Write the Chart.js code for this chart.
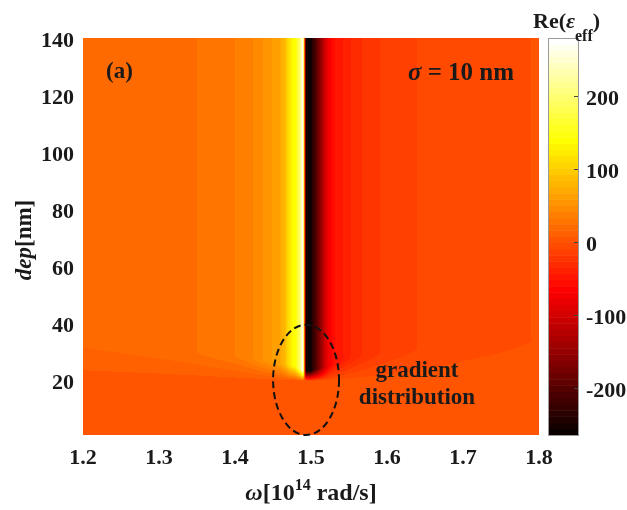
<!DOCTYPE html>
<html>
<head>
<meta charset="utf-8">
<script src="https://cdn.jsdelivr.net/npm/chart.js@4.4.0/dist/chart.umd.min.js"></script>
<style>
  body { margin: 0; background: #fff; }
  #wrap { width: 627px; height: 510px; }
</style>
</head>
<body>
<div id="wrap"><canvas id="myChart" width="627" height="510"></canvas></div>
<script>
// frequency nodes [10^14 rad/s] and Re(eps_eff) once the profile is fully developed
var omega  = [1.20, 1.25, 1.30, 1.35, 1.40, 1.424, 1.437, 1.449, 1.459, 1.466, 1.472, 1.480, 1.4855, 1.4895,
              1.4935, 1.499, 1.503, 1.508, 1.513, 1.519, 1.525, 1.532, 1.542, 1.553, 1.567, 1.591, 1.639, 1.70, 1.79, 1.80];
var reDeep = [18, 19.5, 21.5, 25, 33.5, 42, 50.5, 59, 67.5, 85, 120, 145, 200, 285,
              -270, -262, -230, -190, -150, -100, -65, -51.5, -43, -34.5, -26, -17.5, -9, -4, -0.5, 0];

// near the surface the permittivity is flat
var shallowDep = 20;
var reShallow = 4;

// depth at which the deep values are reached
var onsetOmega = [1.20, 1.30, 1.40, 1.45, 1.48, 1.49, 1.50, 1.52, 1.55, 1.60, 1.70, 1.80];
var onsetDep   = [33, 31, 28.5, 26.5, 25, 23.5, 23.5, 25, 28, 30, 32.5, 34];

var xTicks = [1.2, 1.3, 1.4, 1.5, 1.6, 1.7, 1.8];
var yTicks = [20, 40, 60, 80, 100, 120, 140];
var cbTicks = [-200, -100, 0, 100, 200];
var cMin = -264, cMax = 280;

// dashed ring marking the gradient zone
var ringCenter = [1.4935, 20.3];
var ringRadius = [0.0434, 19.3];

var serif = "'Liberation Serif', 'Times New Roman', serif";
var textColor = '#1a1a1a';

function lerpAt(xs, ys, x) {
  if (x <= xs[0]) return ys[0];
  for (var i = 1; i < xs.length; i++) {
    if (x <= xs[i]) {
      var t = (x - xs[i - 1]) / (xs[i] - xs[i - 1]);
      return ys[i - 1] + t * (ys[i] - ys[i - 1]);
    }
  }
  return ys[ys.length - 1];
}

// matlab style "hot" map, 64 levels
function hotColor(v) {
  var m = 64, n = 24;
  var i = Math.floor((v - cMin) / (cMax - cMin) * m);
  if (i < 0) i = 0;
  if (i > m - 1) i = m - 1;
  var k = i + 1;
  var r = k <= n ? k / n : 1;
  var g = k <= n ? 0 : (k <= 2 * n ? (k - n) / n : 1);
  var b = k <= 2 * n ? 0 : (k - 2 * n) / (m - 2 * n);
  return [Math.round(r * 255), Math.round(g * 255), Math.round(b * 255)];
}

function valueAt(om, d) {
  var deep = lerpAt(omega, reDeep, om);
  var onset = lerpAt(onsetOmega, onsetDep, om);
  if (d >= onset) return deep;
  if (d <= shallowDep) return reShallow;
  return reShallow + (deep - reShallow) * (d - shallowDep) / (onset - shallowDep);
}

var heatmapPlugin = {
  id: 'heatmap',
  beforeDatasetsDraw: function(chart) {
    var area = chart.chartArea, xs = chart.scales.x, ys = chart.scales.y, ctx = chart.ctx;
    var w = Math.round(area.right - area.left), h = Math.round(area.bottom - area.top);
    var off = document.createElement('canvas');
    off.width = w; off.height = h;
    var octx = off.getContext('2d');
    var img = octx.createImageData(w, h);
    for (var i = 0; i < w; i++) {
      var om = xs.getValueForPixel(area.left + i + 0.5);
      for (var j = 0; j < h; j++) {
        var d = ys.getValueForPixel(area.top + j + 0.5);
        var c = hotColor(valueAt(om, d));
        var p = (j * w + i) * 4;
        img.data[p] = c[0]; img.data[p + 1] = c[1]; img.data[p + 2] = c[2]; img.data[p + 3] = 255;
      }
    }
    octx.putImageData(img, 0, 0);
    ctx.save();
    ctx.filter = 'blur(0.6px)';
    ctx.drawImage(off, area.left, area.top);
    ctx.restore();

    // dashed ring
    var cx = xs.getPixelForValue(ringCenter[0]), cy = ys.getPixelForValue(ringCenter[1]);
    var rx = xs.getPixelForValue(ringCenter[0] + ringRadius[0]) - cx;
    var ry = cy - ys.getPixelForValue(ringCenter[1] + ringRadius[1]);
    ctx.save();
    ctx.beginPath();
    ctx.ellipse(cx, cy, rx, ry, 0, 0, Math.PI * 2);
    ctx.setLineDash([7, 4]);
    ctx.lineWidth = 2;
    ctx.strokeStyle = '#111';
    ctx.stroke();
    ctx.restore();
  }
};

// colour bar drawn against the cb scale
var colorbarPlugin = {
  id: 'colorbar',
  afterDraw: function(chart) {
    var cb = chart.scales.cb, ctx = chart.ctx;
    var x0 = 548, bw = 30;
    var step = (cMax - cMin) / 64;
    ctx.save();
    for (var k = 0; k < 64; k++) {
      var v0 = cMin + k * step, v1 = v0 + step;
      var yTop = cb.getPixelForValue(v1), yBot = cb.getPixelForValue(v0);
      var c = hotColor(v0 + step / 2);
      ctx.fillStyle = 'rgb(' + c[0] + ',' + c[1] + ',' + c[2] + ')';
      ctx.fillRect(x0, yTop, bw, yBot - yTop + 0.5);
    }
    var top = cb.getPixelForValue(cMax), bot = cb.getPixelForValue(cMin);
    ctx.strokeStyle = '#9a9a9a';
    ctx.lineWidth = 1;
    ctx.strokeRect(x0 + 0.5, top + 0.5, bw, bot - top);
    ctx.strokeStyle = '#444';
    cbTicks.forEach(function(t) {
      var y = Math.round(cb.getPixelForValue(t)) + 0.5;
      ctx.beginPath();
      ctx.moveTo(x0 + bw - 4, y);
      ctx.lineTo(x0 + bw, y);
      ctx.stroke();
    });
    ctx.restore();
  }
};

// draws a run of text pieces with their own fonts
function drawRuns(ctx, runs, x, y, align) {
  var total = 0;
  runs.forEach(function(r) { ctx.font = r.font; total += ctx.measureText(r.text).width; });
  var cx = align === 'center' ? x - total / 2 : x;
  runs.forEach(function(r) {
    ctx.font = r.font;
    ctx.fillText(r.text, cx, y + (r.dy || 0));
    cx += ctx.measureText(r.text).width;
  });
}

var labelsPlugin = {
  id: 'labels',
  afterDraw: function(chart) {
    var ctx = chart.ctx;
    var b = 'bold 22px ' + serif, bi = 'italic bold 22px ' + serif;
    var b23 = 'bold 23px ' + serif, bi23 = 'italic bold 23px ' + serif;
    ctx.save();
    ctx.fillStyle = textColor;
    ctx.textBaseline = 'alphabetic';
    ctx.textAlign = 'left';

    drawRuns(ctx, [{ text: '(a)', font: 'bold 23px ' + serif }], 106, 78, 'left');
    drawRuns(ctx, [{ text: 'σ', font: 'italic bold 25px ' + serif },
                   { text: ' = 10 nm', font: 'bold 25px ' + serif }], 461, 80, 'center');
    drawRuns(ctx, [{ text: 'gradient', font: b23 }], 417, 377, 'center');
    drawRuns(ctx, [{ text: 'distribution', font: b23 }], 417, 404, 'center');

    // x axis title
    drawRuns(ctx, [{ text: 'ω', font: 'italic bold 24px ' + serif },
                   { text: '[10', font: 'bold 24px ' + serif },
                   { text: '14', font: 'bold 16px ' + serif, dy: -10 },
                   { text: ' rad/s]', font: 'bold 24px ' + serif }], 311, 500, 'center');

    // y axis title
    ctx.save();
    ctx.translate(31, 240);
    ctx.rotate(-Math.PI / 2);
    drawRuns(ctx, [{ text: 'dep', font: bi23 }, { text: '[nm]', font: b23 }], 0, 0, 'center');
    ctx.restore();

    // colour bar title
    drawRuns(ctx, [{ text: 'Re(', font: b },
                   { text: 'ε', font: bi },
                   { text: 'eff', font: 'bold 16px ' + serif, dy: 13 },
                   { text: ')', font: b }], 533, 28, 'left');
    ctx.restore();
  }
};

function tickFont() {
  return { family: serif, size: 22, weight: 'bold' };
}

// fixed axis boxes so the plot area sits where it should
function fixBox(size, horizontal) {
  return function(s) {
    if (horizontal) s.height = size; else s.width = size;
    s.paddingTop = 0; s.paddingBottom = 0; s.paddingLeft = 0; s.paddingRight = 0;
  };
}

function init() {
  var ctx = document.getElementById('myChart').getContext('2d');
  var chart = new Chart(ctx, {
    type: 'scatter',
    data: { datasets: [{ data: [] }] },
    options: {
      responsive: false,
      animation: false,
      devicePixelRatio: 1,
      layout: { padding: { top: 38, left: 0, right: 0, bottom: 0 } },
      plugins: { legend: { display: false }, tooltip: { enabled: false } },
      scales: {
        x: {
          type: 'linear', min: 1.2, max: 1.8,
          afterBuildTicks: function(s) { s.ticks = xTicks.map(function(v) { return { value: v }; }); },
          afterFit: fixBox(75, true),
          grid: { display: false, drawTicks: false },
          border: { display: false },
          ticks: { font: tickFont(), color: textColor, padding: 10, maxRotation: 0,
                   callback: function(v) { return v.toFixed(1); } }
        },
        y: {
          type: 'linear', min: 1, max: 140,
          afterBuildTicks: function(s) { s.ticks = yTicks.map(function(v) { return { value: v }; }); },
          afterFit: fixBox(83, false),
          grid: { display: false, drawTicks: false },
          border: { display: false },
          ticks: { font: tickFont(), color: textColor, padding: 9, labelOffset: 3,
                   callback: function(v) { return String(v); } }
        },
        cb: {
          type: 'linear', position: 'right', min: cMin, max: cMax,
          afterBuildTicks: function(s) { s.ticks = cbTicks.map(function(v) { return { value: v }; }); },
          afterFit: fixBox(88, false),
          grid: { display: false, drawTicks: false },
          border: { display: false },
          ticks: { font: tickFont(), color: textColor, padding: 47, labelOffset: 3,
                   callback: function(v) { return String(v); } }
        }
      }
    },
    plugins: [heatmapPlugin, colorbarPlugin, labelsPlugin]
  });
}

init();
</script>
</body>
</html>
